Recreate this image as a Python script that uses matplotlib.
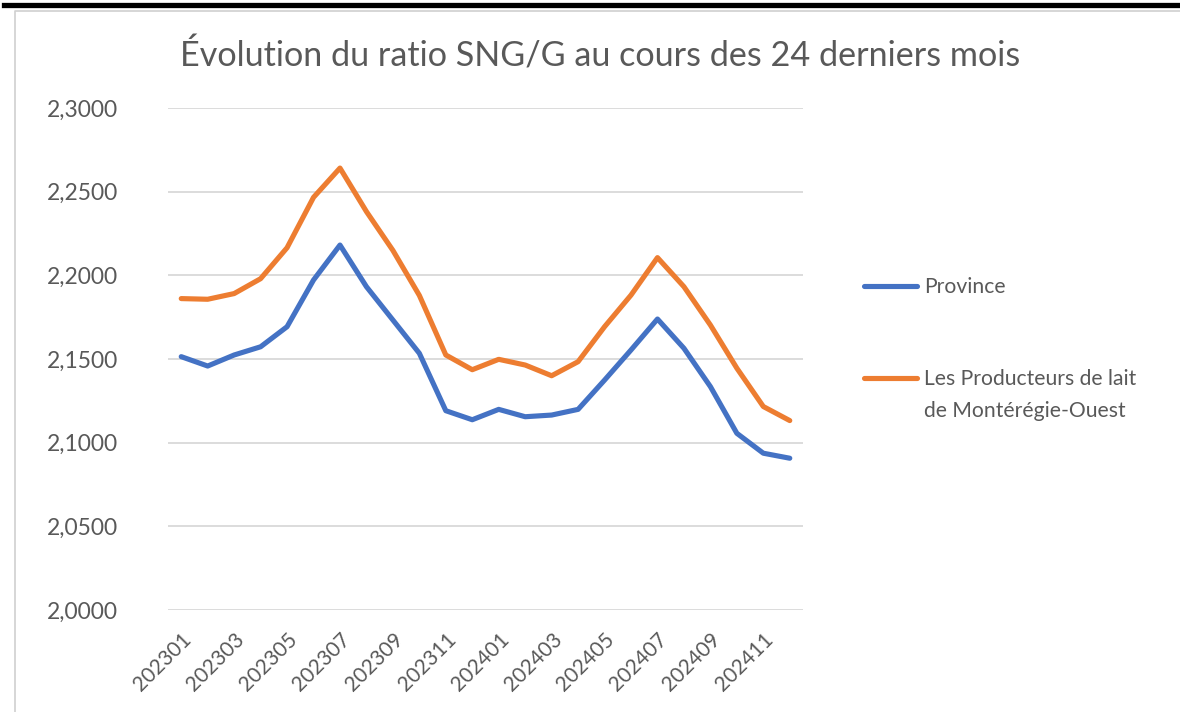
import matplotlib
matplotlib.use("Agg")
import matplotlib.pyplot as plt
from matplotlib.lines import Line2D
from matplotlib.ticker import FuncFormatter

plt.rcParams['font.family'] = ['Lato', 'DejaVu Sans']

months = ["202301", "202302", "202303", "202304", "202305", "202306",
          "202307", "202308", "202309", "202310", "202311", "202312",
          "202401", "202402", "202403", "202404", "202405", "202406",
          "202407", "202408", "202409", "202410", "202411", "202412"]

province = [2.1514, 2.1458, 2.1524, 2.1573, 2.1693, 2.1972, 2.2181, 2.1932,
            2.1733, 2.1534, 2.1191, 2.1137, 2.1199, 2.1155, 2.1165, 2.1199,
            2.1374, 2.1554, 2.1739, 2.1564, 2.1335, 2.1056, 2.0937, 2.0907]

monteregie = [2.1861, 2.1857, 2.1891, 2.1980, 2.2165, 2.2466, 2.2641, 2.2381,
              2.2149, 2.1880, 2.1524, 2.1436, 2.1498, 2.1464, 2.1400, 2.1484,
              2.1693, 2.1882, 2.2106, 2.1932, 2.1703, 2.1445, 2.1216, 2.1132]

series_names = ["Province", "Les Producteurs de lait\nde Montérégie-Ouest"]
series_colors = ["#4472C4", "#ED7D31"]
yticks = [2.0, 2.05, 2.1, 2.15, 2.2, 2.25, 2.3]
title = "Évolution du ratio SNG/G au cours des 24 derniers mois"

W, H = 1180, 712
fig = plt.figure(figsize=(W / 100, H / 100), dpi=100)

# page decorations: black bar on top, light frame
fig.add_artist(Line2D([4 / W, 1], [1 - 5 / H, 1 - 5 / H], color="black", lw=3.8,
                      transform=fig.transFigure))
fig.add_artist(Line2D([15 / W, 15 / W, 1], [0, 1 - 11 / H, 1 - 11 / H],
                      color="#d0d0d0", lw=1.2, transform=fig.transFigure))

ax = fig.add_axes([168 / W, 1 - 610 / H, (803 - 168) / W, (610 - 108) / H])
x = list(range(len(months)))
for vals, c in zip([province, monteregie], series_colors):
    ax.plot(x, vals, color=c, lw=3.7, solid_capstyle="round", solid_joinstyle="round", zorder=3)

ax.set_xlim(-0.5, len(months) - 0.5)
ax.set_ylim(yticks[0], yticks[-1])
ax.set_yticks(yticks)
ax.yaxis.set_major_formatter(FuncFormatter(lambda v, p: f"{v:.4f}".replace(".", ",")))
ax.grid(axis="y", color="#d9d9d9", lw=1.3, zorder=0)
ax.set_xticks(x[::2])
ax.set_xticklabels(months[::2], rotation=45, ha="right", va="top", rotation_mode="anchor")
for s in ax.spines.values():
    s.set_visible(False)
ax.tick_params(axis="y", length=0, colors="#595959", labelsize=16.5, pad=36)
ax.tick_params(axis="x", length=0, colors="#595959", labelsize=15, pad=14)

fig.text(600 / W, 1 - 55 / H, title, ha="center", va="center", fontsize=24.6, color="#595959")

# legend
leg_y = [286, 378]
for name, c, yy in zip(series_names, series_colors, leg_y):
    fig.add_artist(Line2D([864 / W, 917 / W], [1 - yy / H, 1 - yy / H], color=c, lw=3.7,
                          solid_capstyle="round", transform=fig.transFigure))
    fig.text(924 / W, 1 - (yy - 9) / H, name, ha="left", va="top", fontsize=15.2,
             color="#595959", linespacing=1.72)

fig.savefig("out.png", dpi=100)
